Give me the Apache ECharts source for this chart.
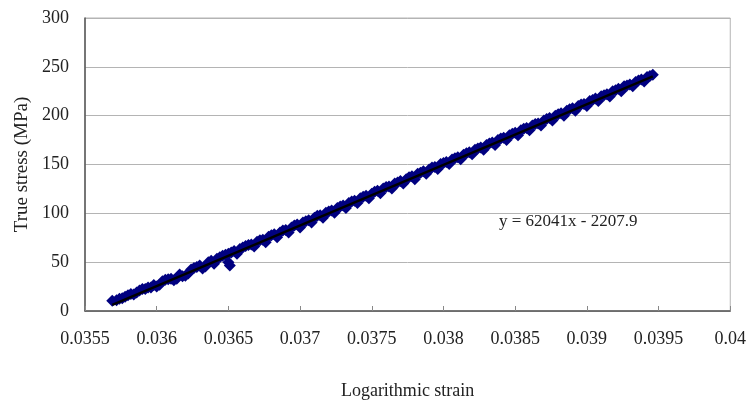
<!DOCTYPE html>
<html>
<head>
<meta charset="utf-8">
<script src="https://cdn.jsdelivr.net/npm/echarts@6/dist/echarts.min.js"></script>
<style>
html,body{margin:0;padding:0;background:#fff;}
#chart{width:749px;height:405px;}
</style>
</head>
<body>
<div id="chart"></div>
<script>
// Logarithmic strain (x) and true stress in MPa (y)
const strain = [
  0.03569, 0.03572, 0.03576, 0.03580, 0.03584, 0.03588, 0.03592, 0.03596, 0.03600, 0.03604,
  0.03608, 0.03612, 0.03616, 0.03620, 0.03624, 0.03628, 0.03632, 0.03636, 0.03640, 0.03644,
  0.03648, 0.03650, 0.03651, 0.03652, 0.03656, 0.03660, 0.03664, 0.03668, 0.03672, 0.03676,
  0.03680, 0.03684, 0.03688, 0.03692, 0.03696, 0.03700, 0.03704, 0.03708, 0.03712, 0.03716,
  0.03720, 0.03724, 0.03728, 0.03732, 0.03736, 0.03740, 0.03744, 0.03748, 0.03752, 0.03756,
  0.03760, 0.03764, 0.03768, 0.03772, 0.03776, 0.03780, 0.03784, 0.03788, 0.03792, 0.03796,
  0.03800, 0.03804, 0.03808, 0.03812, 0.03816, 0.03820, 0.03824, 0.03828, 0.03832, 0.03836,
  0.03840, 0.03844, 0.03848, 0.03852, 0.03856, 0.03860, 0.03864, 0.03868, 0.03872, 0.03876,
  0.03880, 0.03884, 0.03888, 0.03892, 0.03896, 0.03900, 0.03904, 0.03908, 0.03912, 0.03916,
  0.03920, 0.03924, 0.03928, 0.03932, 0.03936, 0.03940, 0.03944, 0.03946
];
const stress = [
  10.5, 11.0, 13.0, 16.0, 17.0, 21.0, 22.5, 24.0, 25.0, 30.5,
  32.5, 31.5, 37.5, 36.0, 42.5, 45.0, 43.5, 50.0, 48.5, 55.0,
  57.5, 50.0, 46.5, 60.0, 58.5, 65.0, 67.5, 66.0, 72.5, 70.5,
  77.5, 75.5, 82.5, 80.5, 87.5, 85.5, 92.0, 90.5, 97.5, 95.5,
  102.0, 100.5, 107.0, 105.5, 112.0, 110.5, 117.0, 115.5, 122.0, 120.5,
  127.0, 125.5, 131.5, 130.5, 137.0, 135.0, 141.5, 140.5, 147.0, 145.5,
  151.5, 150.5, 156.5, 155.5, 161.5, 160.5, 166.5, 165.0, 171.5, 170.0,
  176.5, 175.0, 181.5, 180.0, 186.5, 185.0, 191.5, 190.0, 196.5, 195.0,
  201.5, 200.0, 206.5, 205.0, 211.5, 210.0, 216.0, 215.0, 221.0, 219.5,
  226.0, 225.0, 231.0, 230.0, 236.0, 235.0, 240.5, 242.0
];
// second batch of readings lying between the first ones
const strainB = [
  0.03574, 0.03578, 0.03582, 0.03586, 0.03590, 0.03594, 0.03598, 0.03602, 0.03606, 0.03610,
  0.03614, 0.03618, 0.03622, 0.03626, 0.03630, 0.03634, 0.03638, 0.03642, 0.03646, 0.03650,
  0.03654, 0.03658, 0.03662, 0.03666, 0.03670, 0.03674, 0.03678, 0.03682, 0.03686, 0.03690,
  0.03694, 0.03698, 0.03702, 0.03706, 0.03710, 0.03714, 0.03718, 0.03722, 0.03726, 0.03730,
  0.03734, 0.03738, 0.03742, 0.03746, 0.03750, 0.03754, 0.03758, 0.03762, 0.03766, 0.03770,
  0.03774, 0.03778, 0.03782, 0.03786, 0.03790, 0.03794, 0.03798, 0.03802, 0.03806, 0.03810,
  0.03814, 0.03818, 0.03822, 0.03826, 0.03830, 0.03834, 0.03838, 0.03842, 0.03846, 0.03850,
  0.03854, 0.03858, 0.03862, 0.03866, 0.03870, 0.03874, 0.03878, 0.03882, 0.03886, 0.03890,
  0.03894, 0.03898, 0.03902, 0.03906, 0.03910, 0.03914, 0.03918, 0.03922, 0.03926, 0.03930,
  0.03934, 0.03938, 0.03942
];
const stressB = [
  12.5, 14.5, 17.5, 19.0, 22.5, 24.0, 26.5, 27.0, 32.0, 33.0,
  33.0, 35.5, 38.5, 44.0, 46.5, 45.5, 51.5, 53.5, 56.5, 58.5,
  61.5, 63.5, 66.5, 68.0, 71.0, 73.0, 76.0, 78.5, 80.5, 83.0,
  85.5, 88.5, 90.5, 93.0, 95.5, 98.0, 100.5, 103.0, 105.5, 108.0,
  110.5, 113.0, 115.5, 118.0, 120.0, 123.0, 125.5, 127.5, 130.5, 133.0,
  135.0, 138.0, 140.5, 143.0, 145.0, 147.5, 150.5, 152.5, 155.0, 157.5,
  160.0, 162.5, 165.0, 167.5, 170.0, 172.5, 175.0, 177.5, 180.0, 182.5,
  185.0, 187.5, 190.0, 192.0, 195.0, 197.5, 200.0, 202.5, 205.0, 207.5,
  210.0, 212.0, 215.0, 217.5, 220.0, 222.0, 225.0, 227.5, 230.0, 232.0,
  234.5, 237.0, 239.5
];
// Linear trendline shown on the chart
const trendSlope = 62041;
const trendIntercept = -2207.9;
const trendLabel = 'y = 62041x - 2207.9';
const xTitle = 'Logarithmic strain';
const yTitle = 'True stress (MPa)';

const points = strain.map((x, i) => [x, stress[i]])
  .concat(strainB.map((x, i) => [x, stressB[i]]));
const xMin = Math.min(...strain, ...strainB), xMax = Math.max(...strain, ...strainB);
const trend = [[xMin, trendSlope * xMin + trendIntercept], [xMax, trendSlope * xMax + trendIntercept]];

const font = '"Liberation Serif", "Times New Roman", serif';
const chart = echarts.init(document.getElementById('chart'), null, {renderer: 'canvas'});
chart.setOption({
  animation: false,
  backgroundColor: '#ffffff',
  grid: {left: 85, right: 17, top: 18, bottom: 91, show: true, borderColor: '#b4b4b4', borderWidth: 1},
  xAxis: {
    type: 'value', min: 0.0355, max: 0.04, interval: 0.0005,
    name: xTitle, nameLocation: 'middle', nameGap: 71,
    nameTextStyle: {fontFamily: font, fontSize: 18, color: '#222'},
    axisLine: {show: true, onZero: false, lineStyle: {color: '#555', width: 1.5}},
    axisTick: {show: true, inside: true, length: 5, lineStyle: {color: '#888'}},
    axisLabel: {fontFamily: font, fontSize: 18, color: '#222', margin: 19,
      formatter: v => String(parseFloat(v.toFixed(5)))},
    splitLine: {show: false}
  },
  yAxis: {
    type: 'value', min: 0, max: 300, interval: 50,
    name: yTitle, nameLocation: 'middle', nameGap: 52, nameRotate: 90,
    nameTextStyle: {fontFamily: font, fontSize: 19, color: '#222'},
    axisLine: {show: true, lineStyle: {color: '#555', width: 1.5}},
    axisTick: {show: false},
    axisLabel: {fontFamily: font, fontSize: 18, color: '#222', margin: 16},
    splitLine: {show: true, lineStyle: {color: '#b4b4b4', width: 1}}
  },
  series: [
    {
      type: 'scatter', data: points, symbol: 'diamond', symbolSize: 12,
      itemStyle: {color: '#000080', opacity: 1}, z: 2
    },
    {
      type: 'line', data: trend, symbol: 'none',
      lineStyle: {color: '#000000', width: 2.5}, z: 3
    }
  ],
  graphic: [{
    type: 'text', left: 499, top: 213,
    style: {text: trendLabel, font: '17px ' + font, fill: '#222'}
  }]
});
</script>
</body>
</html>
